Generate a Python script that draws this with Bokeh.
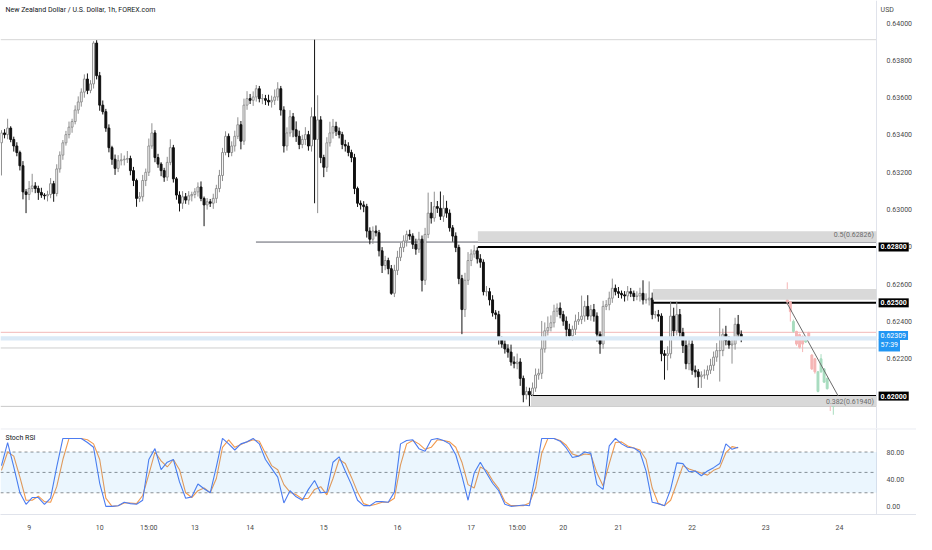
from bokeh.plotting import figure
from bokeh.models import (ColumnDataSource, Span, BoxAnnotation, Label, LinearAxis,
                          FixedTicker, NumeralTickFormatter, Range1d)
from bokeh.layouts import column
from bokeh.embed import file_html
from bokeh.resources import INLINE

FONT = "Roboto"
title_text = "New Zealand Dollar / U.S. Dollar, 1h, FOREX.com"

# ---------------- data (prices in 1e-5 units) ----------------
first_open = 63358
closes = [
    63411, 63402, 63437, 63376, 63341, 63306, 63235, 63095, 63081, 63113,
    63127, 63113, 63092, 63078, 63074, 63081, 63139, 63086, 63218, 63292,
    63358, 63402, 63442, 63472, 63534, 63577, 63630, 63700, 63639, 63674,
    63893, 63718, 63560, 63525, 63437, 63332, 63270, 63221, 63262, 63267,
    63270, 63274, 63209, 63156, 63060, 63069, 63156, 63200, 63341, 63411,
    63279, 63244, 63209, 63174, 63253, 63332, 63165, 63078, 63034, 63069,
    63051, 63074, 63081, 63095, 63121, 63060, 63025, 63042, 63034, 63060,
    63113, 63183, 63306, 63393, 63306, 63341, 63393, 63455, 63367, 63560,
    63595, 63586, 63604, 63648, 63595, 63595, 63586, 63577, 63586, 63604,
    63648, 63534, 63341, 63411, 63498, 63428, 63393, 63349, 63376, 63402,
    63341, 63498, 63376, 63481, 63279, 63227, 63358, 63411, 63446, 63420,
    63402, 63349, 63341, 63306, 63279, 63113, 63034, 63025, 63016, 62885,
    62841, 62885, 62876, 62779, 62700, 62727, 62683, 62551, 62674, 62744,
    62797, 62832, 62867, 62858, 62814, 62788, 62841, 62621, 62867, 62981,
    62955, 63016, 63007, 62964, 63007, 62981, 62902, 62858, 62797, 62630,
    62464, 62621, 62727, 62762, 62779, 62736, 62718, 62560, 62560, 62516,
    62446, 62437, 62306, 62279, 62253, 62236, 62183, 62174, 62183, 62095,
    62007, 62025, 62007, 62043, 62113, 62122, 62253, 62350, 62367, 62393,
    62455, 62472, 62437, 62402, 62358, 62323, 62358, 62402, 62411, 62429,
    62481, 62429, 62464, 62429, 62332, 62279, 62481, 62490, 62525, 62578,
    62560, 62551, 62543, 62537, 62560, 62551, 62534, 62537, 62551, 62516,
    62516, 62525, 62437, 62437, 62429, 62227, 62218, 62227, 62429, 62350,
    62437, 62341, 62271, 62174, 62279, 62139, 62130, 62104, 62113, 62113,
    62139, 62165, 62209, 62244, 62244, 62332, 62297, 62274, 62279, 62385,
    62332, 62309,
]
upper_wick = [
    15, 20, 50, 10, 15, 20, 10, 25, 15, 40,
    65, 20, 15, 25, 10, 20, 30, 15, 25, 20,
    15, 20, 30, 15, 25, 30, 20, 25, 30, 20,
    10, 15, 20, 25, 15, 20, 10, 25, 30, 35,
    20, 40, 15, 20, 10, 25, 30, 20, 40, 52,
    15, 20, 10, 15, 30, 45, 15, 10, 20, 30,
    20, 25, 15, 20, 25, 30, 10, 20, 15, 25,
    20, 30, 25, 27, 15, 25, 30, 40, 20, 35,
    40, 25, 30, 20, 15, 25, 20, 30, 25, 40,
    35, 15, 20, 30, 35, 20, 45, 30, 25, 40,
    20, 50, 413, 132, 20, 15, 30, 60, 40, 25,
    20, 15, 25, 20, 15, 20, 10, 15, 20, 15,
    20, 25, 30, 15, 20, 25, 15, 20, 30, 35,
    25, 30, 20, 25, 15, 30, 40, 20, 35, 110,
    60, 80, 30, 90, 70, 40, 20, 15, 20, 15,
    20, 40, 45, 25, 30, 20, 25, 15, 30, 20,
    25, 15, 20, 15, 20, 25, 40, 30, 45, 20,
    15, 25, 20, 30, 35, 25, 150, 45, 60, 40,
    35, 25, 30, 20, 25, 30, 20, 35, 40, 110,
    30, 60, 25, 30, 20, 15, 30, 25, 35, 52,
    20, 25, 15, 20, 30, 20, 15, 25, 30, 70,
    35, 90, 30, 20, 25, 15, 20, 40, 78, 45,
    70, 30, 25, 40, 30, 20, 25, 15, 20, 30,
    25, 35, 30, 40, 228, 30, 45, 25, 30, 35,
    50, 20,
]
lower_wick = [
    175, 20, 25, 15, 30, 20, 25, 40, 100, 30,
    20, 25, 40, 15, 20, 30, 20, 44, 15, 20,
    25, 15, 20, 30, 15, 20, 25, 30, 20, 15,
    25, 20, 30, 15, 20, 25, 30, 35, 20, 25,
    30, 20, 25, 30, 45, 20, 25, 30, 20, 15,
    25, 20, 30, 25, 20, 15, 20, 25, 44, 30,
    20, 25, 30, 20, 25, 15, 114, 25, 20, 30,
    25, 20, 30, 15, 25, 20, 30, 15, 44, 20,
    25, 20, 30, 25, 20, 30, 25, 20, 30, 25,
    20, 30, 35, 25, 20, 40, 30, 25, 20, 30,
    25, 30, 342, 395, 30, 53, 25, 20, 30, 25,
    20, 25, 30, 20, 25, 30, 20, 25, 30, 35,
    27, 25, 20, 30, 40, 25, 30, 8, 20, 25,
    20, 25, 30, 20, 25, 30, 20, 60, 25, 20,
    30, 20, 25, 20, 30, 25, 20, 30, 25, 30,
    132, 40, 25, 30, 20, 25, 30, 20, 25, 30,
    20, 25, 30, 20, 25, 30, 20, 25, 30, 40,
    40, 25, 61, 30, 20, 25, 30, 20, 25, 20,
    25, 30, 20, 25, 52, 20, 25, 30, 20, 25,
    30, 20, 25, 30, 40, 52, 25, 20, 30, 25,
    20, 25, 20, 30, 25, 20, 25, 20, 30, 25,
    20, 30, 25, 20, 30, 40, 130, 80, 25, 30,
    25, 30, 40, 30, 35, 25, 30, 60, 60, 20,
    25, 20, 30, 25, 166, 30, 25, 20, 100, 30,
    25, 20,
]

# projected ("ghost") candles on the right
ghost_bar = [256, 257, 258, 259, 260, 261, 262, 263, 264, 265, 266, 267, 268, 269, 270, 271]
ghost_open = [62516, 62505, 62347, 62347, 62330, 62320, 62290, 62340, 62220, 62200, 62025, 62130, 62075, 62040, 61990, 61945]
ghost_close = [62505, 62453, 62400, 62279, 62262, 62279, 62310, 62320, 62146, 62130, 62130, 62200, 62146, 62095, 61950, 61990]
ghost_high = [62610, 62510, 62410, 62350, 62335, 62325, 62315, 62345, 62225, 62205, 62135, 62225, 62150, 62100, 61995, 61995]
ghost_low = [62490, 62400, 62340, 62270, 62255, 62236, 62285, 62315, 62140, 62120, 62020, 62125, 62070, 62035, 61920, 61900]
trend_bar = [255.7, 272.6]
trend_price = [0.62505, 0.62000]

# Stoch RSI, one value every 2 bars
stoch_k = [
    60, 94, 58, 20, 3, 13, 13, 3, 12, 58,
    100, 100, 100, 100, 94, 87, 34, 0, 0, 1,
    6, 4, 3, 9, 69, 85, 54, 65, 69, 36,
    12, 14, 33, 26, 20, 58, 100, 92, 83, 92,
    95, 100, 92, 69, 56, 43, 5, 23, 14, 9,
    25, 38, 20, 21, 65, 73, 52, 32, 9, 1,
    1, 7, 7, 6, 21, 92, 97, 98, 85, 81,
    98, 100, 97, 92, 76, 45, 9, 49, 65, 49,
    34, 23, 3, 0, 1, 2, 1, 47, 100, 100,
    100, 96, 86, 72, 74, 80, 78, 32, 25, 89,
    100, 92, 87, 86, 80, 52, 6, 4, 1, 25,
    64, 63, 51, 52, 45, 52, 57, 63, 92, 84,
    87,
]
stoch_d = [
    53, 80, 74, 43, 9, 9, 15, 7, 6, 29,
    69, 100, 100, 100, 98, 92, 69, 12, 0, 1,
    5, 5, 4, 16, 47, 80, 67, 58, 69, 54,
    20, 13, 23, 27, 20, 41, 87, 98, 87, 91,
    95, 98, 96, 78, 60, 54, 32, 21, 17, 11,
    12, 25, 29, 17, 41, 69, 63, 43, 21, 4,
    1, 3, 6, 6, 12, 61, 92, 97, 92, 84,
    87, 98, 97, 95, 87, 65, 32, 27, 58, 53,
    38, 26, 7, 1, 1, 1, 5, 27, 78, 100,
    100, 97, 90, 77, 74, 77, 76, 49, 30, 63,
    94, 95, 89, 86, 83, 69, 27, 4, 1, 9,
    34, 60, 55, 52, 49, 46, 53, 57, 79, 88,
    86,
]

price_ticks = [0.622, 0.624, 0.626, 0.628, 0.630, 0.632, 0.634, 0.636, 0.638, 0.640]
stoch_ticks = [0, 40, 80]
day_ticks = [9, 32, 48, 63, 81, 105, 129, 153, 168, 183, 201, 225, 249, 273]
day_labels = ["9", "10", "15:00", "13", "14", "15", "16", "17", "15:00", "20", "21", "22", "23", "24"]

# drawn levels / zones
top_line = 0.63911
fib_382_line = 0.61945
fib_half = 0.62826
fib_half_start = 82.9
zones = [  # (left bar, bottom, top)
    (155.2, 0.62826, 0.62884),
    (212.2, 0.62516, 0.62574),
    (172.5, 0.61947, 0.62000),
]
levels = [(155.2, 0.62800, "0.62800"), (212.2, 0.62500, "0.62500"), (172.5, 0.62000, "0.62000")]
last_price = 0.62309
countdown = "57:39"

SCALE = 1e5
X0, X1 = -0.32, 298.1      # visible bar span
AX = 285.1                 # bar position of the price scale

# ---------------- price panel ----------------
p = figure(width=916, height=428, x_range=Range1d(X0, X1),
           y_range=Range1d(0.618263, 0.641211), output_backend="svg",
           toolbar_location=None, x_axis_location=None, y_axis_location=None,
           min_border_left=0, min_border_right=0, min_border_top=0, min_border_bottom=0)
p.grid.visible = False
p.outline_line_color = None

def level_line(fig, y, color, width=1, x0=X0, dash="solid"):
    fig.segment(x0=[x0], y0=[y], x1=[AX], y1=[y], line_color=color, line_width=width, line_dash=dash)

# reference lines and zones
level_line(p, top_line, "#d6d6d6")
level_line(p, fib_382_line, "#c8c8c8")
p.add_layout(BoxAnnotation(left=X0, right=AX, bottom=0.62298, top=0.62321, fill_color="#dbeaf7",
                           fill_alpha=1, line_color=None))
level_line(p, 0.62342, "#f2b8b8")
level_line(p, 0.62258, "#cfcfcf")
for left, bot, top in zones:
    p.add_layout(BoxAnnotation(left=left, right=AX, bottom=bot, top=top, fill_color="#d9d9d9",
                               fill_alpha=1, line_color=None))
level_line(p, fib_half, "#5d606b", x0=fib_half_start)
for left, lvl, _ in levels:
    level_line(p, lvl, "#000000", width=2, x0=left)

# candles
bull = dict(x=[], top=[], bottom=[], hi=[], lo=[])
bear = dict(x=[], top=[], bottom=[], hi=[], lo=[])
prev = first_open
for i, c in enumerate(closes):
    o = prev
    d = bull if c >= o else bear
    d["x"].append(i)
    d["top"].append(max(o, c) / SCALE)
    d["bottom"].append(min(o, c) / SCALE)
    d["hi"].append((max(o, c) + upper_wick[i]) / SCALE)
    d["lo"].append((min(o, c) - lower_wick[i]) / SCALE)
    prev = c

for d, wick, fill, line in [(bull, "#8f8f8f", "#ffffff", "#8f8f8f"), (bear, "#111111", "#111111", "#111111")]:
    src = ColumnDataSource(d)
    p.segment(x0="x", y0="hi", x1="x", y1="lo", source=src, line_color=wick, line_width=1)
    p.vbar(x="x", top="top", bottom="bottom", width=0.62, source=src,
           fill_color=fill, line_color=line, line_width=1)

gup = dict(x=[], top=[], bottom=[], hi=[], lo=[])
gdn = dict(x=[], top=[], bottom=[], hi=[], lo=[])
for i, b in enumerate(ghost_bar):
    o, c = ghost_open[i], ghost_close[i]
    d = gup if c >= o else gdn
    d["x"].append(b)
    d["top"].append(max(o, c) / SCALE)
    d["bottom"].append(min(o, c) / SCALE)
    d["hi"].append(ghost_high[i] / SCALE)
    d["lo"].append(ghost_low[i] / SCALE)
for d, col in [(gup, "#a8dcbf"), (gdn, "#f5b5b5")]:
    src = ColumnDataSource(d)
    p.segment(x0="x", y0="hi", x1="x", y1="lo", source=src, line_color=col, line_width=1)
    p.vbar(x="x", top="top", bottom="bottom", width=0.62, source=src,
           fill_color=col, line_color=col)
p.line(trend_bar, trend_price, line_color="#6b6b6b", line_width=1)

# price scale (drawn at a fixed position inside the frame)
yax = LinearAxis(fixed_location=AX, ticker=FixedTicker(ticks=price_ticks),
                 formatter=NumeralTickFormatter(format="0.00000"))
p.add_layout(yax, "right")

# texts
p.add_layout(Label(x=1.3, y=0.640675, text=title_text, text_font=FONT, text_font_size="7px",
                   text_color="#131722", text_baseline="middle"))
p.add_layout(Label(x=AX, y=0.640675, x_offset=4, text="USD", text_font=FONT,
                   text_font_size="7px", text_color="#4a4a4a", text_baseline="middle"))
p.add_layout(Label(x=284.2, y=0.628632, text="0.5(0.62826)", text_font=FONT,
                   text_font_size="7px", text_color="#6b6b6b", text_align="right",
                   text_baseline="middle"))
p.add_layout(Label(x=284.2, y=0.619684, text="0.382(0.61940)", text_font=FONT,
                   text_font_size="7px", text_color="#6b6b6b", text_align="right",
                   text_baseline="middle"))
for _, lvl, txt in levels:
    p.add_layout(Label(x=AX, y=lvl, x_offset=2, text=txt, text_font=FONT, text_font_size="7px",
                       text_color="white", text_font_style="bold", background_fill_color="#000000",
                       text_baseline="middle", padding=2))
p.add_layout(Label(x=AX, y=last_price, x_offset=2, y_offset=3, text=f"{last_price:.5f}", text_font=FONT,
                   text_font_size="7px", text_color="white", background_fill_color="#2196f3",
                   text_baseline="middle", padding=2))
p.add_layout(Label(x=AX, y=last_price, x_offset=2, y_offset=-7, text=countdown, text_font=FONT,
                   text_font_size="7px", text_color="white", background_fill_color="#2196f3",
                   text_baseline="middle", padding=2))

# ---------------- Stoch RSI panel ----------------
s = figure(width=916, height=106, x_range=p.x_range, y_range=Range1d(-12, 114.67),
           output_backend="svg", toolbar_location=None, y_axis_location=None,
           min_border_left=0, min_border_right=0, min_border_top=0, min_border_bottom=13)
s.grid.visible = False
s.outline_line_color = None
s.add_layout(BoxAnnotation(left=X0, right=AX, bottom=20, top=80, fill_color="#2196f3",
                           fill_alpha=0.09, line_color=None))
for lv in (80, 50, 20):
    level_line(s, lv, "#8f8f8f", dash="3 3")
s.add_layout(Span(location=114.2, dimension="width", line_color="#e0e3eb", line_width=1))
sx = [2 * k for k in range(len(stoch_k))]
s.line(sx, stoch_d, line_color="#f29a4e", line_width=1.1)
s.line(sx, stoch_k, line_color="#4d7cf0", line_width=1.1)
s.add_layout(Label(x=1.3, y=100, text="Stoch RSI", text_font=FONT, text_font_size="7px",
                   text_color="#131722", text_baseline="middle"))

say = LinearAxis(fixed_location=AX, ticker=FixedTicker(ticks=stoch_ticks),
                 formatter=NumeralTickFormatter(format="0.00"))
s.add_layout(say, "right")
s.xaxis.ticker = FixedTicker(ticks=day_ticks)
s.xaxis.major_label_overrides = {t: l for t, l in zip(day_ticks, day_labels)}
for ax in (s.xaxis[0], say, yax):
    ax.axis_line_color = "#e0e3eb"
    ax.major_tick_line_color = None
    ax.minor_tick_line_color = None
    ax.major_label_text_font = FONT
    ax.major_label_text_font_size = "7px"
    ax.major_label_text_color = "#4a4a4a"
    ax.major_label_standoff = 4
s.xaxis.major_label_standoff = 3

layout = column(p, s, spacing=0)
open("out.html", "w").write(file_html(layout, INLINE))
